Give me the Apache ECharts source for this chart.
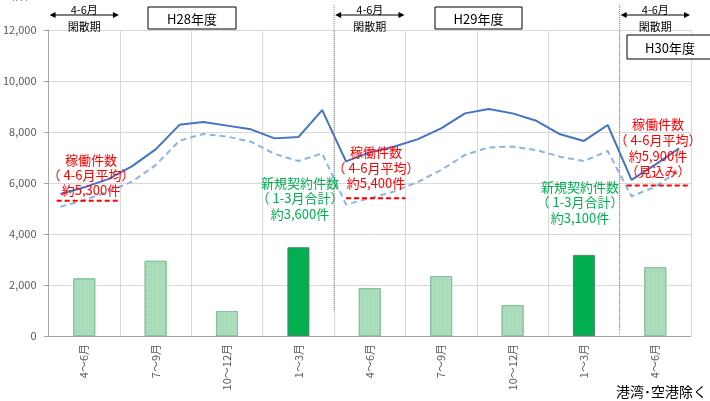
<!DOCTYPE html>
<html>
<head>
<meta charset="utf-8">
<script src="https://cdn.jsdelivr.net/npm/echarts@6/dist/echarts.min.js"></script>
<style>
html,body{margin:0;padding:0;background:#fff;}
#c{width:710px;height:401px;}
</style>
</head>
<body>
<div id="c"></div>
<script>
// ---- data ----
const quarters = ['4〜6月','7〜9月','10〜12月','1〜3月','4〜6月','7〜9月','10〜12月','1〜3月','4〜6月'];
const newContracts = [2260, 2950, 980, 3480, 1880, 2350, 1210, 3180, 2700];
const highlightQuarters = [3, 7];
// monthly (Apr H28 .. Jun H30)
const activeSolid = [5570,5830,6150,6650,7320,8280,8390,8250,8105,7750,7800,8860,
                     6850,7200,7420,7710,8140,8730,8900,8730,8440,7910,7650,8275,
                     6120,6720,7360];
const activeDashed = [5070,5330,5660,6050,6700,7660,7920,7820,7620,7140,6860,7160,
                      5160,5400,5660,6030,6510,7100,7395,7430,7290,7030,6860,7255,
                      5480,5850,6510];
const averages = [5300, 5400, 5900];
const averageSpans = [[0.34,2.93],[12.5,15.0],[24.3,26.96]];
const yTicks = [0,2000,4000,6000,8000,10000,12000];
const separators = [12, 24];

const chart = echarts.init(document.getElementById('c'));
const FONT = '"Noto Sans CJK JP", "Noto Sans", sans-serif';

const barData = newContracts.map((v,i)=>({
  value: v,
  itemStyle: highlightQuarters.includes(i)
    ? {color:'#00b050', borderColor:'#4a8a62', borderWidth:1}
    : {color:'#a3dcb6', borderColor:'#86c29c', borderWidth:1,
       decal:{symbol:'rect', symbolSize:1, color:'rgba(255,255,255,0.2)', dashArrayX:[1,1], dashArrayY:[1,1], rotation:0}}
}));

const avgSeries = averages.map((v,i)=>({
  type:'line', xAxisIndex:1, yAxisIndex:0, symbol:'none', silent:true,
  data:[[averageSpans[i][0], v],[averageSpans[i][1], v]],
  lineStyle:{color:'#ff0000', width:2, type:[5,3]}, z:4
}));

chart.setOption({
  animation:false,
  grid:{left:47, right:19, top:30, bottom:65},
  xAxis:[
    {type:'category', data:quarters, axisTick:{show:false},
     axisLine:{lineStyle:{color:'#a6a6a6'}},
     splitLine:{show:true, interval:0, lineStyle:{color:'#d9d9d9'}},
     axisLabel:{rotate:90, interval:0, color:'#595959', fontSize:11, fontFamily:FONT, margin:8}},
    {type:'value', min:0, max:27, show:false}
  ],
  yAxis:{type:'value', min:0, max:12000, interval:2000,
    axisLine:{show:true, lineStyle:{color:'#a6a6a6'}},
    splitLine:{lineStyle:{color:'#d9d9d9'}},
    axisLabel:{color:'#595959', fontSize:11, fontFamily:FONT, margin:12,
      formatter:v=>yTicks.includes(v)? v.toLocaleString('en-US') : ''}},
  series:[
    {type:'bar', data:barData, barWidth:22, z:2},
    {type:'line', xAxisIndex:1, symbol:'none', data:activeSolid.map((v,i)=>[i+0.5,v]),
     lineStyle:{color:'#4472c4', width:2}, z:3},
    {type:'line', xAxisIndex:1, symbol:'none', data:activeDashed.map((v,i)=>[i+0.5,v]),
     lineStyle:{color:'#8db4e2', width:2, type:[6,4]}, z:3},
    ...avgSeries
  ]
});

// ---- annotations ----
const g = [];
function txt(x,y,text,fill,size,align){
  g.push({type:'text', x:x, y:y, z:10, style:{text:text, fill:fill, font:size+'px '+FONT,
    textAlign:align||'center', textVerticalAlign:'middle'}});
}
function arrow(x1,x2,y){
  g.push({type:'line', z:10, shape:{x1:x1+4,y1:y,x2:x2-4,y2:y}, style:{stroke:'#000',lineWidth:1}});
  g.push({type:'polygon', z:10, shape:{points:[[x1,y],[x1+6,y-3],[x1+6,y+3]]}, style:{fill:'#000'}});
  g.push({type:'polygon', z:10, shape:{points:[[x2,y],[x2-6,y-3],[x2-6,y+3]]}, style:{fill:'#000'}});
}
function box(x,y,w,h,text){
  g.push({type:'rect', z:10, shape:{x:x,y:y,width:w,height:h}, style:{fill:'#fff',stroke:'#000',lineWidth:1}});
  txt(x+w/2, y+h/2+1, text, '#000', 13);
}
// separators
separators.forEach(m=>{
  const px = chart.convertToPixel({xAxisIndex:1}, m);
  g.push({type:'line', z:9, shape:{x1:px,y1:5,x2:px,y2:m===12?310:330},
    style:{stroke:'#808080', lineWidth:1, lineDash:[1,1]}});
});
// closed-season arrows
[[0,3],[12,15],[24,27]].forEach(([a,b],i)=>{
  const x1 = chart.convertToPixel({xAxisIndex:1}, a)+1;
  const x2 = chart.convertToPixel({xAxisIndex:1}, b)-1;
  arrow(x1, x2, 15);
  txt((x1+x2)/2, 10, '4-6月', '#000', 11);
  txt((x1+x2)/2, 27, '閑散期', '#000', 11);
});
box(148,7,88,22,'H28年度');
box(435,7,87,22,'H29年度');
box(627,35,86,24,'H30年度');

const red = '#ff0000', green = '#00b050';
txt(91,160,'稼働件数',red,13); txt(91,175,'（ 4-6月平均）',red,13); txt(91,190,'約5,300件',red,13);
txt(376,152,'稼働件数',red,13); txt(376,168,'（ 4-6月平均）',red,13); txt(376,183,'約5,400件',red,13);
txt(658,124,'稼働件数',red,13); txt(658,140,'（ 4-6月平均）',red,13); txt(658,156,'約5,900件',red,13); txt(658,171,'（見込み）',red,13);
txt(300,183,'新規契約件数',green,13); txt(300,198,'（ 1-3月合計）',green,13); txt(300,214,'約3,600件',green,13);
txt(580,187,'新規契約件数',green,13); txt(580,202,'（ 1-3月合計）',green,13); txt(580,218,'約3,100件',green,13);
txt(707,392,'港湾･空港除く','#000',14,'right');
txt(20,-4,'（件）','#595959',11);

chart.setOption({graphic:g});
</script>
</body>
</html>
